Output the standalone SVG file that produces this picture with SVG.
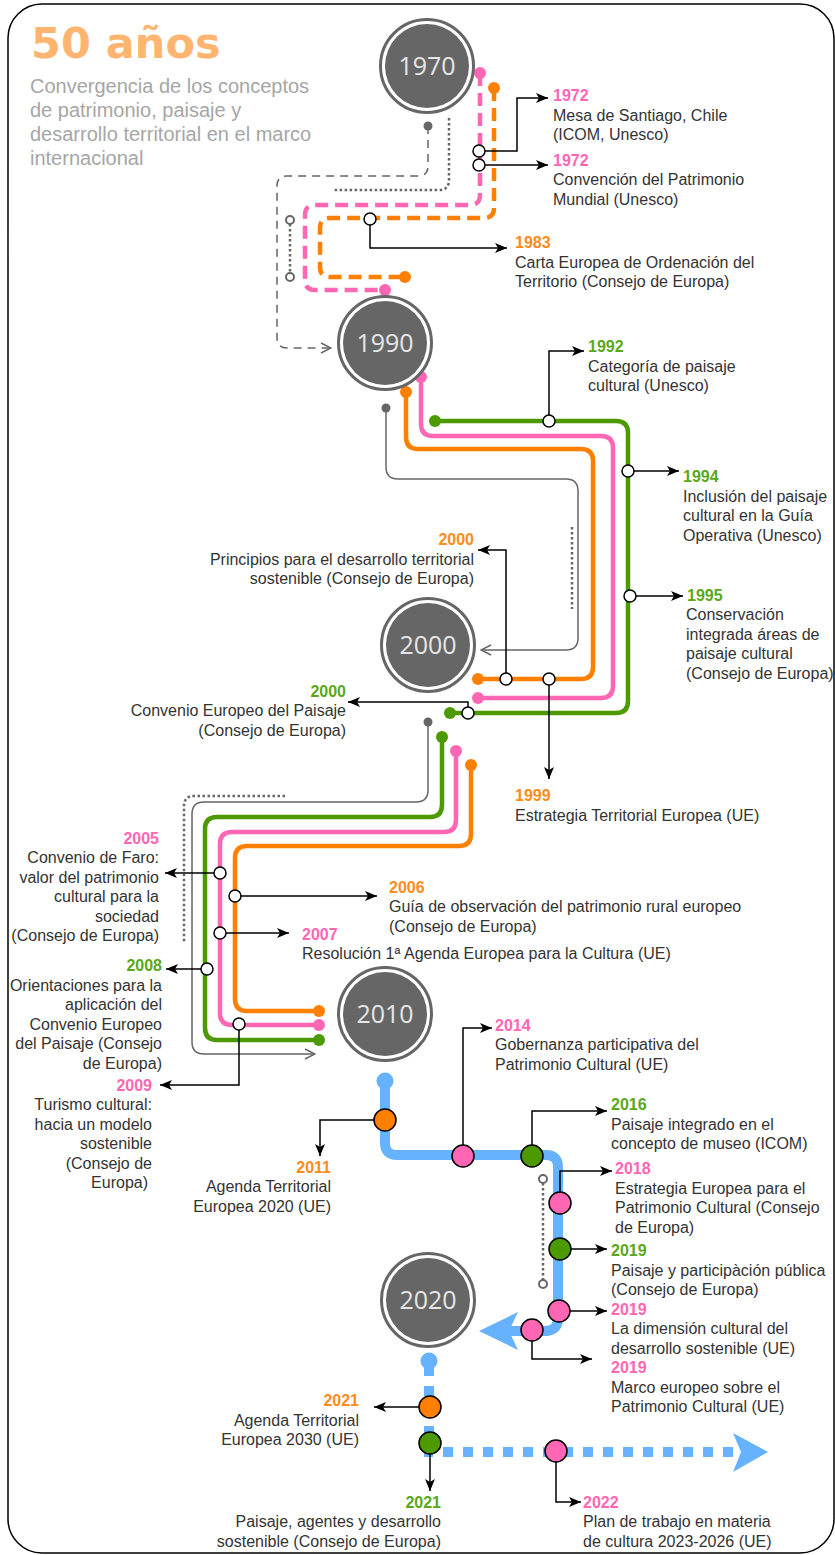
<svg xmlns="http://www.w3.org/2000/svg" width="835" height="1555" viewBox="0 0 835 1555">
<style>
.t{font-family:"Liberation Sans",Arial,sans-serif;font-size:16px;fill:#333}
.e{text-anchor:end}
.yb{font-weight:bold}
.pk{fill:#FF66B3}.or{fill:#FF8C1A}.gr{fill:#5AA81A}
.yr{font-family:"Open Sans","DejaVu Sans",sans-serif;font-size:25px;fill:#E6E6E6;text-anchor:middle}
.ln{fill:none;stroke-width:4.5}
.pkl{stroke:#FF66B3}.orl{stroke:#FF8000}.grl{stroke:#4D9900}
.da{stroke-dasharray:13 7}
.gy{fill:none;stroke:#666;stroke-width:1.5}
.gyd{stroke-dasharray:8 6}
.dt{fill:none;stroke:#666;stroke-width:2.5;stroke-dasharray:2.5 2.5}
.cn{fill:none;stroke:#000;stroke-width:1.5;marker-end:url(#arr)}
.st{fill:#fff;stroke:#000;stroke-width:1.5}
.bs{stroke:#000;stroke-width:1.5}
.sm{fill:#fff;stroke:#666;stroke-width:2}
.bl{fill:none;stroke:#66B2FF;stroke-width:10}
.ring{fill:#fff;stroke:#666;stroke-width:3}
</style>
<defs>
<marker id="arr" viewBox="0 0 12 10" refX="12" refY="5" markerWidth="12" markerHeight="10" markerUnits="userSpaceOnUse" orient="auto"><path d="M0,0 L12,5 L0,10 L3,5 z" fill="#000"/></marker>
<marker id="garr" viewBox="0 0 12 12" refX="11" refY="6" markerWidth="12" markerHeight="12" markerUnits="userSpaceOnUse" orient="auto"><path d="M1,1 L11,6 L1,11" fill="none" stroke="#666" stroke-width="1.5"/></marker>
</defs>
<rect x="8" y="4" width="826" height="1549" rx="34" fill="#fff" stroke="#000" stroke-width="1.5"/>

<g id="title">
<text x="31" y="58" style="font-family:'DejaVu Sans',sans-serif;font-weight:bold;font-size:43px;fill:#FFB570">50 años</text>
<text style="font-family:'Liberation Sans',Arial,sans-serif;font-size:20px;fill:#A6A6A6">
<tspan x="30" y="93">Convergencia de los conceptos</tspan>
<tspan x="30" y="117">de patrimonio, paisaje y</tspan>
<tspan x="30" y="141">desarrollo territorial en el marco</tspan>
<tspan x="30" y="165">internacional</tspan>
</text>
</g>

<g id="connectors">
<!-- section 1970-1990 -->
<path class="gy gyd" d="M428,126 V166 Q428,176 418,176 H287 Q277,176 277,186 V338 Q277,348 287,348 H331" marker-end="url(#garr)"/>
<circle cx="428" cy="126" r="4.5" fill="#666"/>
<path class="dt" d="M449,118 V180 Q449,190 439,190 H332"/>
<path class="dt" d="M290,224 V273"/>
<circle class="sm" cx="290" cy="220" r="4"/>
<circle class="sm" cx="290" cy="277" r="4"/>
<path class="ln pkl da" d="M480,73 V195 Q480,205 470,205 H315 Q305,205 305,215 V280 Q305,290 315,290 H385"/>
<circle cx="480" cy="73" r="6" fill="#FF66B3"/>
<circle cx="385" cy="290" r="6" fill="#FF66B3"/>
<path class="ln orl da" d="M494,88 V208 Q494,218 484,218 H330 Q320,218 320,228 V267 Q320,277 330,277 H405"/>
<circle cx="494" cy="88" r="6" fill="#FF8000"/>
<circle cx="405" cy="277" r="6" fill="#FF8000"/>

<!-- section 1990-2000 -->
<path class="gy" d="M386,408 V467 Q386,479 398,479 H566 Q578,479 578,491 V638 Q578,650 566,650 H481" marker-end="url(#garr)"/>
<circle cx="386" cy="408" r="4.5" fill="#666"/>
<path class="dt" d="M572,527 V609"/>
<path class="ln orl" d="M406,392 V437 Q406,449 418,449 H581 Q593,449 593,461 V667 Q593,679 581,679 H478"/>
<circle cx="406" cy="392" r="6" fill="#FF8000"/>
<circle cx="478" cy="679" r="6" fill="#FF8000"/>
<path class="ln pkl" d="M421,377 V424 Q421,436 433,436 H601 Q613,436 613,448 V686 Q613,698 601,698 H478"/>
<circle cx="421" cy="377" r="6" fill="#FF66B3"/>
<circle cx="478" cy="698" r="6" fill="#FF66B3"/>
<path class="ln grl" d="M435,421 H616 Q628,421 628,433 V701 Q628,713 616,713 H450"/>
<circle cx="435" cy="421" r="6" fill="#4D9900"/>
<circle cx="450" cy="713" r="6" fill="#4D9900"/>

<!-- section 2000-2010 -->
<path class="gy" d="M428,722 V790 Q428,802 416,802 H204 Q192,802 192,814 V1042 Q192,1054 204,1054 H315" marker-end="url(#garr)"/>
<circle cx="428" cy="722" r="4.5" fill="#666"/>
<path class="dt" d="M285,796 H194 Q184,796 184,806 V942"/>
<path class="ln grl" d="M442,737 V805 Q442,817 430,817 H217 Q205,817 205,829 V1028 Q205,1040 217,1040 H319"/>
<circle cx="442" cy="737" r="6" fill="#4D9900"/>
<circle cx="319" cy="1040" r="6" fill="#4D9900"/>
<path class="ln pkl" d="M456,751 V820 Q456,832 444,832 H232 Q220,832 220,844 V1013 Q220,1025 232,1025 H319"/>
<circle cx="456" cy="751" r="6" fill="#FF66B3"/>
<circle cx="319" cy="1025" r="6" fill="#FF66B3"/>
<path class="ln orl" d="M471,765 V834 Q471,846 459,846 H247 Q235,846 235,858 V999 Q235,1011 247,1011 H319"/>
<circle cx="471" cy="765" r="6" fill="#FF8000"/>
<circle cx="319" cy="1011" r="6" fill="#FF8000"/>

<!-- section 2010-2020 -->
<path class="dt" d="M543,1183 V1280"/>
<circle class="sm" cx="543" cy="1179" r="4"/>
<circle class="sm" cx="543" cy="1284" r="4"/>
<path class="bl" d="M385,1081 V1143 Q385,1155 397,1155 H546 Q558,1155 558,1167 V1318 Q558,1331 545,1331 H505"/>
<circle cx="385" cy="1081" r="8.5" fill="#66B2FF"/>
<polygon points="479,1331 518,1312 509,1331 518,1350" fill="#66B2FF"/>

<!-- section 2020+ -->
<circle cx="429" cy="1361" r="8.5" fill="#66B2FF"/>
<path d="M429,1361 V1376" stroke="#66B2FF" stroke-width="10"/>
<path class="bl" style="stroke-dasharray:10 10" d="M429,1386 V1452 H735"/>
<polygon points="768,1452 733,1433 741,1452 733,1472" fill="#66B2FF"/>

<!-- event connectors -->
<path class="cn" d="M485,151 H517 V98 H548"/>
<path class="cn" d="M485,165 H548"/>
<path class="cn" d="M370,225 V248 H507"/>
<path class="cn" d="M549,415 V351 H584"/>
<path class="cn" d="M634,471 H679"/>
<path class="cn" d="M636,596 H683"/>
<path class="cn" d="M506,673 V550 H478"/>
<path class="cn" d="M549,685 V779"/>
<path class="cn" d="M468,707 V702 H348"/>
<path class="cn" d="M214,873 H165"/>
<path class="cn" d="M241,896 H377"/>
<path class="cn" d="M226,933 H289"/>
<path class="cn" d="M201,969 H166"/>
<path class="cn" d="M239,1030 V1085 H160"/>
<path class="cn" d="M374,1120 H320 V1156"/>
<path class="cn" d="M463,1145 V1028 H492"/>
<path class="cn" d="M532,1145 V1111 H607"/>
<path class="cn" d="M560,1192 V1171 H612"/>
<path class="cn" d="M571,1249 H607"/>
<path class="cn" d="M570,1311 H607"/>
<path class="cn" d="M532,1341 V1359 H592"/>
<path class="cn" d="M419,1407 H374"/>
<path class="cn" d="M430,1454 V1491"/>
<path class="cn" d="M556,1462 V1502 H581"/>
</g>

<g id="y1970"><circle class="ring" cx="427" cy="66" r="46.5"/><circle cx="427" cy="66" r="42" fill="#666"/><text class="yr" x="427" y="75">1970</text></g>
<g id="y1990"><circle class="ring" cx="385" cy="343" r="46.5"/><circle cx="385" cy="343" r="42" fill="#666"/><text class="yr" x="385" y="352">1990</text></g>
<g id="y2000"><circle class="ring" cx="428" cy="645" r="46.5"/><circle cx="428" cy="645" r="42" fill="#666"/><text class="yr" x="428" y="654">2000</text></g>
<g id="y2010"><circle class="ring" cx="385" cy="1014" r="46.5"/><circle cx="385" cy="1014" r="42" fill="#666"/><text class="yr" x="385" y="1023">2010</text></g>
<g id="y2020"><circle class="ring" cx="428" cy="1300" r="46.5"/><circle cx="428" cy="1300" r="42" fill="#666"/><text class="yr" x="428" y="1309">2020</text></g>

<g id="e1972a"><circle class="st" cx="479" cy="151" r="6"/>
<text class="t"><tspan x="553" y="101" class="yb pk">1972</tspan><tspan x="553" y="120.5">Mesa de Santiago, Chile</tspan><tspan x="553" y="140">(ICOM, Unesco)</tspan></text></g>
<g id="e1972b"><circle class="st" cx="479" cy="165" r="6"/>
<text class="t"><tspan x="553" y="165.5" class="yb pk">1972</tspan><tspan x="553" y="185">Convención del Patrimonio</tspan><tspan x="553" y="204.5">Mundial (Unesco)</tspan></text></g>
<g id="e1983"><circle class="st" cx="370" cy="219" r="6"/>
<text class="t"><tspan x="515" y="248" class="yb or">1983</tspan><tspan x="515" y="267.5">Carta Europea de Ordenación del</tspan><tspan x="515" y="287">Territorio (Consejo de Europa)</tspan></text></g>
<g id="e1992"><circle class="st" cx="549" cy="421" r="6"/>
<text class="t"><tspan x="588" y="352" class="yb gr">1992</tspan><tspan x="588" y="371.5">Categoría de paisaje</tspan><tspan x="588" y="391">cultural (Unesco)</tspan></text></g>
<g id="e1994"><circle class="st" cx="628" cy="471" r="6"/>
<text class="t"><tspan x="683" y="482" class="yb gr">1994</tspan><tspan x="683" y="501.5">Inclusión del paisaje</tspan><tspan x="683" y="521">cultural en la Guía</tspan><tspan x="683" y="540.5">Operativa (Unesco)</tspan></text></g>
<g id="e1995"><circle class="st" cx="630" cy="596" r="6"/>
<text class="t"><tspan x="687" y="600.5" class="yb gr">1995</tspan><tspan x="686" y="620">Conservación</tspan><tspan x="686" y="639.5">integrada áreas de</tspan><tspan x="686" y="659">paisaje cultural</tspan><tspan x="686" y="678.5">(Consejo de Europa)</tspan></text></g>
<g id="e2000o"><circle class="st" cx="506" cy="679" r="6"/>
<text class="t e"><tspan x="474" y="545" class="yb or">2000</tspan><tspan x="474" y="564.5">Principios para el desarrollo territorial</tspan><tspan x="474" y="584">sostenible (Consejo de Europa)</tspan></text></g>
<g id="e1999"><circle class="st" cx="549" cy="679" r="6"/>
<text class="t"><tspan x="515" y="801" class="yb or">1999</tspan><tspan x="515" y="820.5">Estrategia Territorial Europea (UE)</tspan></text></g>
<g id="e2000g"><circle class="st" cx="468" cy="713" r="6"/>
<text class="t e"><tspan x="346" y="696.5" class="yb gr">2000</tspan><tspan x="346" y="716">Convenio Europeo del Paisaje</tspan><tspan x="346" y="735.5">(Consejo de Europa)</tspan></text></g>
<g id="e2005"><circle class="st" cx="220" cy="873" r="6"/>
<text class="t e"><tspan x="159" y="843.5" class="yb pk">2005</tspan><tspan x="159" y="863">Convenio de Faro:</tspan><tspan x="159" y="882.5">valor del patrimonio</tspan><tspan x="159" y="902">cultural para la</tspan><tspan x="159" y="921.5">sociedad</tspan><tspan x="159" y="941">(Consejo de Europa)</tspan></text></g>
<g id="e2006"><circle class="st" cx="235" cy="896" r="6"/>
<text class="t"><tspan x="389" y="892.5" class="yb or">2006</tspan><tspan x="389" y="912">Guía de observación del patrimonio rural europeo</tspan><tspan x="389" y="931.5">(Consejo de Europa)</tspan></text></g>
<g id="e2007"><circle class="st" cx="220" cy="933" r="6"/>
<text class="t"><tspan x="302" y="939.5" class="yb pk">2007</tspan><tspan x="302" y="959">Resolución 1ª Agenda Europea para la Cultura (UE)</tspan></text></g>
<g id="e2008"><circle class="st" cx="207" cy="969" r="6"/>
<text class="t e"><tspan x="162" y="971" class="yb gr">2008</tspan><tspan x="162" y="990.5">Orientaciones para la</tspan><tspan x="162" y="1010">aplicación del</tspan><tspan x="162" y="1029.5">Convenio Europeo</tspan><tspan x="162" y="1049">del Paisaje (Consejo</tspan><tspan x="162" y="1068.5">de Europa)</tspan></text></g>
<g id="e2009"><circle class="st" cx="239" cy="1024" r="6"/>
<text class="t e"><tspan x="152" y="1090.5" class="yb pk">2009</tspan><tspan x="152" y="1110">Turismo cultural:</tspan><tspan x="152" y="1129.5">hacia un modelo</tspan><tspan x="152" y="1149">sostenible</tspan><tspan x="152" y="1168.5">(Consejo de</tspan><tspan x="148" y="1188">Europa)</tspan></text></g>
<g id="e2011"><circle class="bs" cx="385" cy="1120" r="11" fill="#FF8000"/>
<text class="t e"><tspan x="331" y="1172.5" class="yb or">2011</tspan><tspan x="331" y="1192">Agenda Territorial</tspan><tspan x="331" y="1211.5">Europea 2020 (UE)</tspan></text></g>
<g id="e2014"><circle class="bs" cx="463" cy="1156" r="11" fill="#FF66B3"/>
<text class="t"><tspan x="495" y="1030.5" class="yb pk">2014</tspan><tspan x="495" y="1050">Gobernanza participativa del</tspan><tspan x="495" y="1069.5">Patrimonio Cultural (UE)</tspan></text></g>
<g id="e2016"><circle class="bs" cx="532" cy="1156" r="11" fill="#4D9900"/>
<text class="t"><tspan x="611" y="1110" class="yb gr">2016</tspan><tspan x="611" y="1129.5">Paisaje integrado en el</tspan><tspan x="611" y="1149">concepto de museo (ICOM)</tspan></text></g>
<g id="e2018"><circle class="bs" cx="560" cy="1203" r="11" fill="#FF66B3"/>
<text class="t"><tspan x="615" y="1174" class="yb pk">2018</tspan><tspan x="615" y="1193.5">Estrategia Europea para el</tspan><tspan x="615" y="1213">Patrimonio Cultural (Consejo</tspan><tspan x="615" y="1232.5">de Europa)</tspan></text></g>
<g id="e2019g"><circle class="bs" cx="560" cy="1249" r="11" fill="#4D9900"/>
<text class="t"><tspan x="611" y="1256" class="yb gr">2019</tspan><tspan x="611" y="1275.5">Paisaje y participàción pública</tspan><tspan x="611" y="1295">(Consejo de Europa)</tspan></text></g>
<g id="e2019p1"><circle class="bs" cx="559" cy="1311" r="11" fill="#FF66B3"/>
<text class="t"><tspan x="611" y="1314.5" class="yb pk">2019</tspan><tspan x="611" y="1334">La dimensión cultural del</tspan><tspan x="611" y="1353.5">desarrollo sostenible (UE)</tspan></text></g>
<g id="e2019p2"><circle class="bs" cx="532" cy="1330" r="11" fill="#FF66B3"/>
<text class="t"><tspan x="611" y="1373" class="yb pk">2019</tspan><tspan x="611" y="1392.5">Marco europeo sobre el</tspan><tspan x="611" y="1412">Patrimonio Cultural (UE)</tspan></text></g>
<g id="e2021o"><circle class="bs" cx="430" cy="1407" r="11" fill="#FF8000"/>
<text class="t e"><tspan x="359" y="1406" class="yb or">2021</tspan><tspan x="359" y="1425.5">Agenda Territorial</tspan><tspan x="359" y="1445">Europea 2030 (UE)</tspan></text></g>
<g id="e2021g"><circle class="bs" cx="430" cy="1443" r="11" fill="#4D9900"/>
<text class="t e"><tspan x="441" y="1507.5" class="yb gr">2021</tspan><tspan x="441" y="1527">Paisaje, agentes y desarrollo</tspan><tspan x="441" y="1546.5">sostenible (Consejo de Europa)</tspan></text></g>
<g id="e2022"><circle class="bs" cx="556" cy="1451" r="11" fill="#FF66B3"/>
<text class="t"><tspan x="583" y="1507.5" class="yb pk">2022</tspan><tspan x="583" y="1527">Plan de trabajo en materia</tspan><tspan x="583" y="1546.5">de cultura 2023-2026 (UE)</tspan></text></g>
</svg>
